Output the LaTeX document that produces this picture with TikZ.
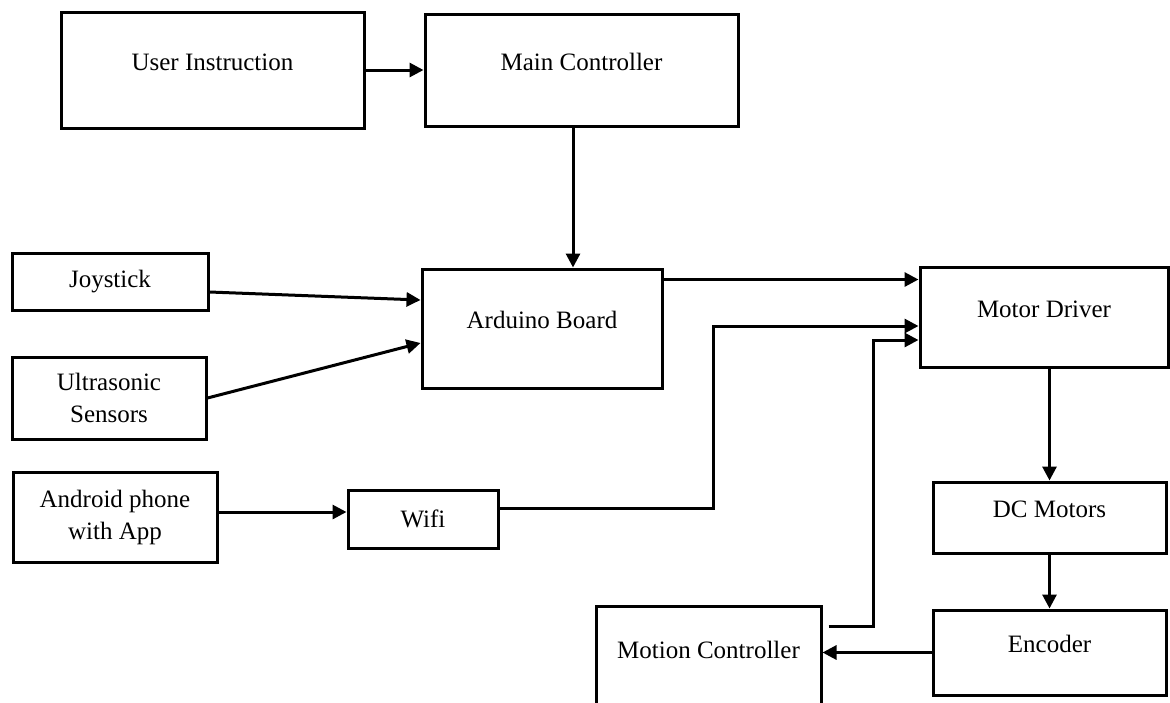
\documentclass[tikz,border=0pt]{standalone}
\usepackage{fontspec}
\setmainfont{Liberation Serif}
\usetikzlibrary{arrows.meta,positioning,calc}

\tikzset{
  blk/.style={draw, line width=1.5pt, align=center, inner sep=2pt, font=\fontsize{12.5}{16}\selectfont},
  blkup/.style={blk, text height=9pt, text depth=9pt},
  conn/.style={line width=1.5pt, -{Triangle[length=7pt,width=7pt]}}
}

\begin{document}
\begin{tikzpicture}[x=0.5pt,y=-0.5pt]
\clip (0,0) rectangle (1170,702);
% nodes
\node[blkup, minimum width=151.5pt, minimum height=58pt] (ui) at (212.5,70) {User Instruction};%
\node[blkup, minimum width=156.5pt, minimum height=56pt] (mc) at (581.5,70) {Main Controller};%
\node[blk, minimum width=98pt, minimum height=28.5pt] (js) at (110,281.5) {Joystick};%
\node[blk, minimum width=97pt, minimum height=41pt] (us) at (109,398) {Ultrasonic\\Sensors};%
\node[blkup, minimum width=120pt, minimum height=59.5pt] (ab) at (542,328.5) {Arduino Board};%
\node[blk, minimum width=102pt, minimum height=45pt] (ap) at (115,517) {Android phone\\with App};%
\node[blk, minimum width=75pt, minimum height=29pt] (wf) at (423,519) {Wifi};%
\node[blkup, minimum width=124pt, minimum height=50pt] (md) at (1044,317) {Motor Driver};%
\node[blkup, minimum width=116.5pt, minimum height=35.5pt] (dc) at (1049.5,517.5) {DC Motors};%
\node[blkup, minimum width=116.5pt, minimum height=42.5pt] (en) at (1049.5,652.5) {Encoder};%
\node[blkup, minimum width=112.5pt, minimum height=52pt] (mo) at (708.5,658) {Motion Controller};%

% arrows
\draw[conn] (ui) -- (mc);%
\draw[conn] ([xshift=-4.25pt]mc.south) -- ([xshift=15.5pt]ab.north);%
\draw[conn] ([yshift=-5.25pt]js.east) -- ([yshift=14.25pt]ab.west);%
\draw[conn] (us.east) -- ([yshift=-7.25pt]ab.west);%
\coordinate (a2m) at ([yshift=-6pt]ab.north east);%
\draw[conn] (a2m) -- (a2m -| md.west);%
\coordinate (a2w) at ([yshift=3.5pt]wf.west);%
\draw[conn] (a2w -| ap.east) -- (a2w);%
\coordinate (wout) at ([yshift=5.5pt]wf.east);%
\coordinate (win) at ([yshift=-4.5pt]md.west);%
\draw[conn] (wout) -| ($(wout)!.51!(win)$) |- (win);%
\coordinate (mout) at ([xshift=3pt,yshift=16pt]mo.east);%
\coordinate (min) at ([yshift=-11.5pt]md.west);%
\draw[conn] (mout) -| ($(mout)!.5!(min)$) |- (min);%
\draw[conn] (md.south -| dc.north) -- (dc.north);%
\draw[conn] (dc) -- (en);%
\draw[conn] (en.west) -- (en.west -| mo.east);%
\end{tikzpicture}
\end{document}
